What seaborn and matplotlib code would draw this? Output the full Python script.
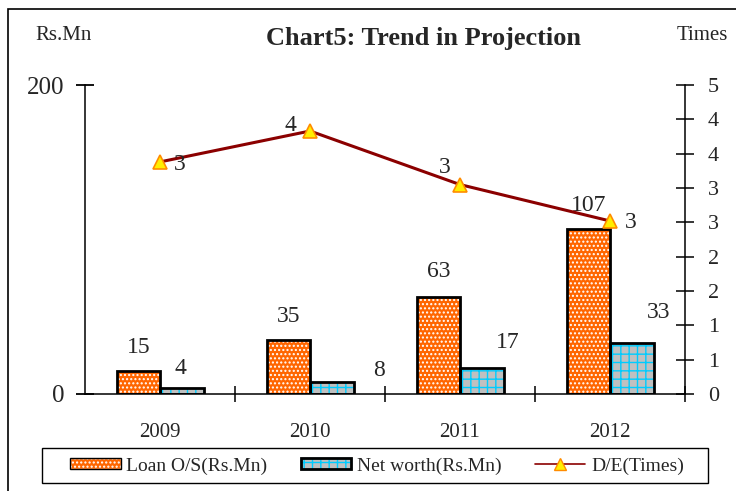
import numpy as np
import pandas as pd
import matplotlib
matplotlib.use("Agg")
import matplotlib.pyplot as plt
import seaborn as sns
from matplotlib.patches import Rectangle, Patch
from matplotlib.lines import Line2D
from matplotlib.legend_handler import HandlerTuple

# data
years = ["2009", "2010", "2011", "2012"]
loan_os = [15, 35, 63, 107]
net_worth = [4, 8, 17, 33]
de_times = [3.38, 3.83, 3.05, 2.52]
series_names = ["Loan O/S(Rs.Mn)", "Net worth(Rs.Mn)", "D/E(Times)"]

sns.set_style("white")
plt.rcParams['font.family'] = ['Liberation Serif', 'DejaVu Serif']
plt.rcParams['hatch.linewidth'] = 1.0

df = pd.DataFrame({
    "year": years * 2,
    "series": [series_names[0]] * 4 + [series_names[1]] * 4,
    "value": loan_os + net_worth,
})

fig = plt.figure(figsize=(7.36, 4.91), dpi=100)
ax = fig.add_axes([85 / 736, 1 - 394 / 491, 600 / 736, 309 / 491])

orange = "#FF6600"
grey = "#C0C0C0"
cyan = "#00CCFF"

sns.barplot(data=df, x="year", y="value", hue="series", palette=[orange, grey],
            width=0.58, ax=ax, legend=False, saturation=1)

n = len(years)
for i, p in enumerate(ax.patches[:2 * n]):
    if i < n:
        p.set_hatch("....")
        p.set_edgecolor("white")
    else:
        p.set_hatch("++")
        p.set_edgecolor(cyan)
    p.set_linewidth(0)
    ax.add_patch(Rectangle(p.get_xy(), p.get_width(), p.get_height(),
                           fill=False, edgecolor="black", linewidth=2, zorder=3))

ax.set_xlim(-0.5, n - 0.5)
ax.set_ylim(0, 200)
ax.set_yticks([0, 200])
ax.set_xlabel("")
ax.set_ylabel("")
ax.set_xticks(np.arange(n) + 0.5, minor=True)
ax.tick_params(axis="x", which="major", length=0, pad=21, labelsize=15)
ax.tick_params(axis="x", which="minor", direction="inout", length=11, width=1.1, color="black")
ax.tick_params(axis="y", direction="inout", length=13, width=1.3, pad=8, labelsize=18, color="black")
ax.tick_params(left=True, bottom=True, which="both")
for s in ["left", "bottom"]:
    ax.spines[s].set_color("black")
    ax.spines[s].set_linewidth(1.1)
ax.spines["top"].set_visible(False)
ax.spines["right"].set_visible(False)

# bar value labels
loan_off = [(0, 17), (0, 17), (0, 18), (0, 17)]
net_off = [(-1, 14), (34, 8), (19, 18), (19, 22)]
for i, p in enumerate(ax.patches[:n]):
    ax.annotate(str(loan_os[i]), (p.get_x() + p.get_width() / 2, loan_os[i]),
                xytext=loan_off[i], textcoords="offset points",
                ha="center", va="center", fontsize=17)
for i, p in enumerate(ax.patches[n:2 * n]):
    ax.annotate(str(net_worth[i]), (p.get_x() + p.get_width() / 2, net_worth[i]),
                xytext=net_off[i], textcoords="offset points",
                ha="center", va="center", fontsize=17)

# D/E line on the right axis
ax2 = ax.twinx()
xpos = np.arange(n)
sns.lineplot(x=xpos, y=de_times, ax=ax2, color="#8B0000", linewidth=2.2,
             marker="^", markersize=10, markerfacecolor="#FFEE00",
             markeredgecolor="#FF8C00", markeredgewidth=1.2)
ax2.set_ylim(0, 4.5)
rticks = np.arange(0, 4.51, 0.5)
ax2.set_yticks(rticks)
ax2.set_yticklabels([str(int(np.floor(v + 0.5))) for v in rticks])
ax2.tick_params(axis="y", direction="inout", length=13, width=1.1, pad=10,
                labelsize=16, right=True, color="black")
ax2.set_ylabel("")
ax2.set_xlabel("")
for s in ["left", "top", "bottom"]:
    ax2.spines[s].set_visible(False)
ax2.spines["right"].set_color("black")
ax2.spines["right"].set_linewidth(1.1)

de_off = [(14, -2), (-14, 4), (-11, 12), (15, -1)]
for i in range(n):
    ax2.annotate(str(int(np.floor(de_times[i] + 0.5))), (xpos[i], de_times[i]),
                 xytext=de_off[i], textcoords="offset points",
                 ha="center", va="center", fontsize=17)

# titles
fig.text(424 / 736, 1 - 39 / 491, "Chart5: Trend in Projection", ha="center", va="center",
         fontsize=19, fontweight="bold")
fig.text(64 / 736, 1 - 36 / 491, "Rs.Mn", ha="center", va="center", fontsize=15)
fig.text(702 / 736, 1 - 36 / 491, "Times", ha="center", va="center", fontsize=15)

# legend
h_loan = (Patch(facecolor=orange, edgecolor="white", hatch="...."),
          Patch(fill=False, edgecolor="black", linewidth=1.0))
h_net = (Patch(facecolor=grey, edgecolor=cyan, hatch="++"),
         Patch(fill=False, edgecolor="black", linewidth=2))
h_de = Line2D([], [], color="#8B0000", linewidth=1.2, marker="^", markersize=8,
              markerfacecolor="#FFEE00", markeredgecolor="#FF8C00")
leg = fig.legend([h_loan, h_net, h_de], series_names,
                 handler_map={tuple: HandlerTuple(ndivide=1, pad=0)},
                 loc="center", ncol=3, bbox_to_anchor=(377 / 736, 1 - 466 / 491),
                 frameon=False, fontsize=14, handlelength=2.6, handleheight=0.5,
                 handletextpad=0.3, columnspacing=1.7, borderaxespad=0)
fig.patches.append(Rectangle((42 / 736, 1 - 483 / 491), 666 / 736, 35 / 491,
                             transform=fig.transFigure, fill=False,
                             edgecolor="black", linewidth=1.0))

# outer frame (left and top edges visible)
fig.patches.append(Rectangle((8 / 736, -0.05), 1.0, 1 - 9 / 491 + 0.05, transform=fig.transFigure,
                             fill=False, edgecolor="black", linewidth=1.2))

fig.savefig("out.png", dpi=100)
